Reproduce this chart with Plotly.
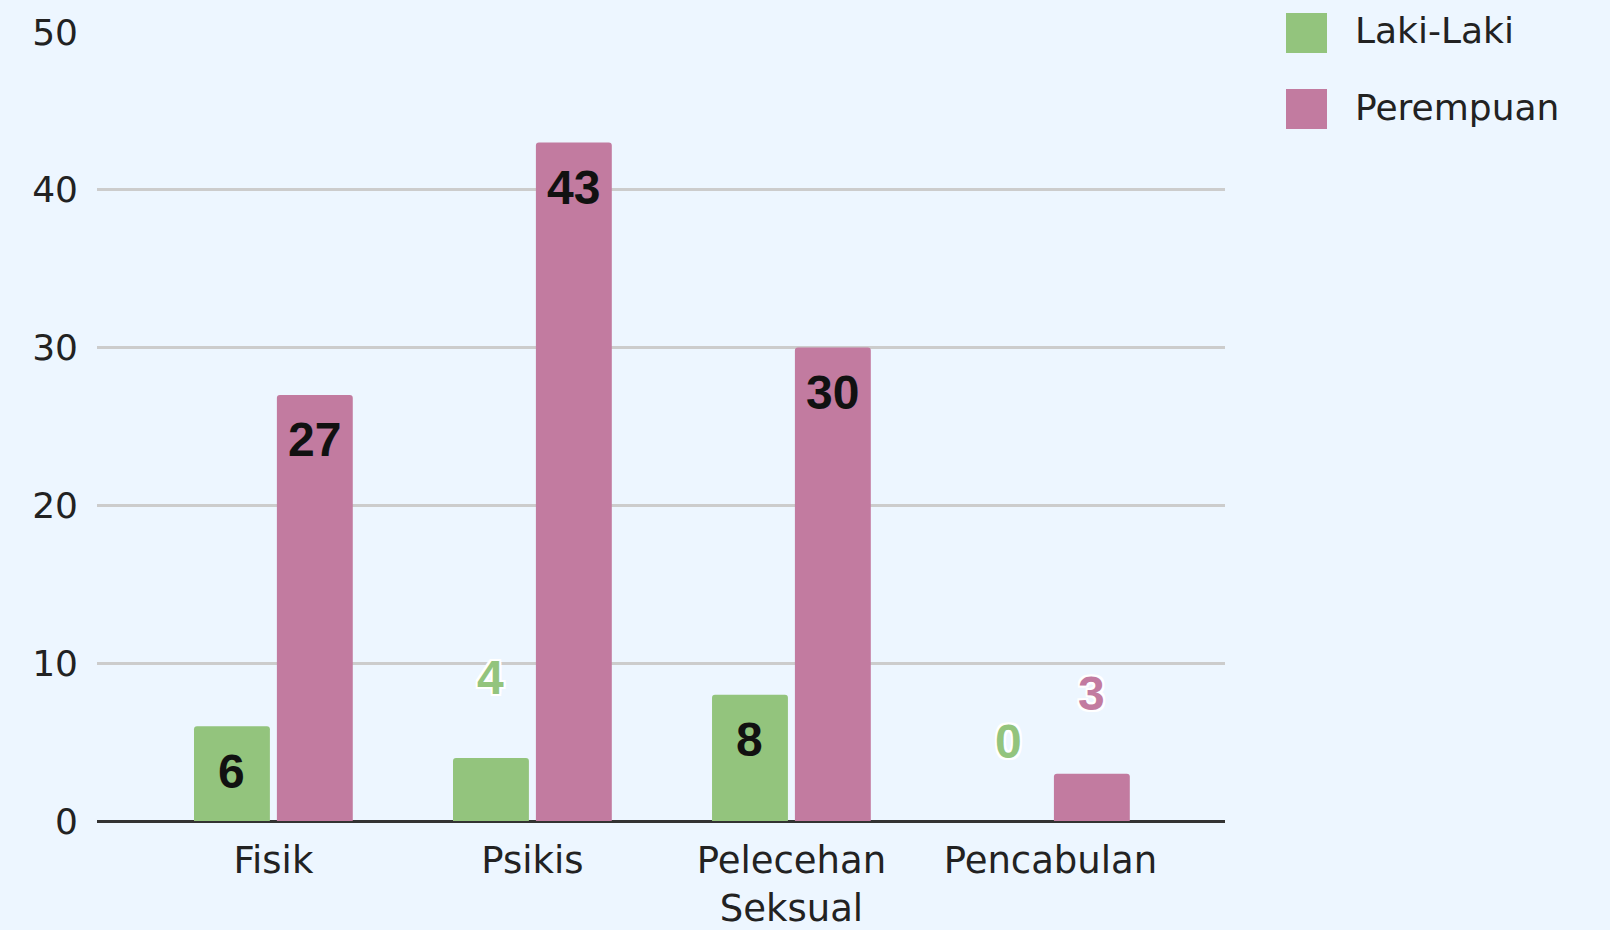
import plotly.graph_objects as go

categories = ["Fisik", "Psikis", "Pelecehan<br>Seksual", "Pencabulan"]
series_names = ["Laki-Laki", "Perempuan"]
laki_laki = [6, 4, 8, 0]
perempuan = [27, 43, 30, 3]
y_ticks = [0, 10, 20, 30, 40, 50]

colors = ["#93c47d", "#c27ba0"]
bg = "#edf6ff"
BAR_W = 0.293
GAP = 0.027
offsets = [-BAR_W - GAP / 2, GAP / 2]
INSIDE_MIN = 6  # values below this get label above bar

fig = go.Figure()
annotations = []
shapes = []
halo = ("2px 2px 0 white, -2px -2px 0 white, 2px -2px 0 white, -2px 2px 0 white, "
        "0 2px 0 white, 0 -2px 0 white, 2px 0 0 white, -2px 0 0 white")

for s, (name, vals) in enumerate(zip(series_names, [laki_laki, perempuan])):
    fig.add_trace(go.Bar(
        x=categories, y=vals, name=name,
        marker=dict(color=colors[s], line=dict(width=0)),
        width=BAR_W, offset=offsets[s], showlegend=False,
        hoverinfo="x+y+name",
    ))
    for i, v in enumerate(vals):
        xc = i + offsets[s] + BAR_W / 2
        if v >= INSIDE_MIN:
            annotations.append(dict(
                x=xc, y=v, xref="x", yref="y", text=str(v), showarrow=False,
                yanchor="middle", xanchor="center", yshift=-45,
                font=dict(family="Liberation Sans, Arial", size=48, color="#111111", weight="bold"),
            ))
        else:
            annotations.append(dict(
                x=xc, y=v, xref="x", yref="y", text=str(v), showarrow=False,
                yanchor="middle", xanchor="center", yshift=80,
                font=dict(family="Liberation Sans, Arial", size=48, color=colors[s],
                          weight="bold", shadow=halo),
            ))

# custom legend (large squares)
plot_l, plot_r, plot_t, plot_b = 97, 1225, 32, 821
pw, ph = plot_r - plot_l, plot_b - plot_t
def px(x):
    return (x - plot_l) / pw
def py(y):
    return (plot_b - y) / ph

legend_rows = [33, 109]
for s, name in enumerate(series_names):
    cy = legend_rows[s]
    shapes.append(dict(type="rect", xref="paper", yref="paper",
                       x0=px(1286), x1=px(1327), y0=py(cy + 20), y1=py(cy - 20),
                       fillcolor=colors[s], line=dict(width=0)))
    annotations.append(dict(x=px(1353), y=py(cy - 2), xref="paper", yref="paper",
                            text=name, showarrow=False, xanchor="left", yanchor="middle",
                            font=dict(family="DejaVu Sans", size=36, color="#222222")))

fig.update_layout(
    width=1610, height=930,
    margin=dict(l=plot_l, r=1610 - plot_r, t=plot_t, b=930 - plot_b, pad=0, autoexpand=False),
    paper_bgcolor=bg, plot_bgcolor=bg,
    barmode="group", barcornerradius=3,
    annotations=annotations, shapes=shapes,
    font=dict(family="DejaVu Sans", size=36, color="#222222"),
    showlegend=False,
)
fig.update_xaxes(
    range=[-0.681, 3.674], showgrid=False, ticks="", showline=False, automargin=False,
    tickfont=dict(family="DejaVu Sans", size=37, color="#222222"),
    ticklabelstandoff=14,
)
fig.update_yaxes(
    range=[0, 50], tickvals=y_ticks, showgrid=True, gridcolor="#cccccc", gridwidth=3,
    zeroline=True, zerolinecolor="#333333", zerolinewidth=3, automargin=False,
    ticks="", tickfont=dict(family="DejaVu Sans", size=36, color="#222222"),
    ticklabelstandoff=18,
)

fig.write_html(
    "out.html",
    config={"displayModeBar": False},
    post_script="document.body.style.margin='0';document.body.style.padding='0';"
                "document.body.style.overflow='hidden';document.body.style.background='%s';" % bg,
)
